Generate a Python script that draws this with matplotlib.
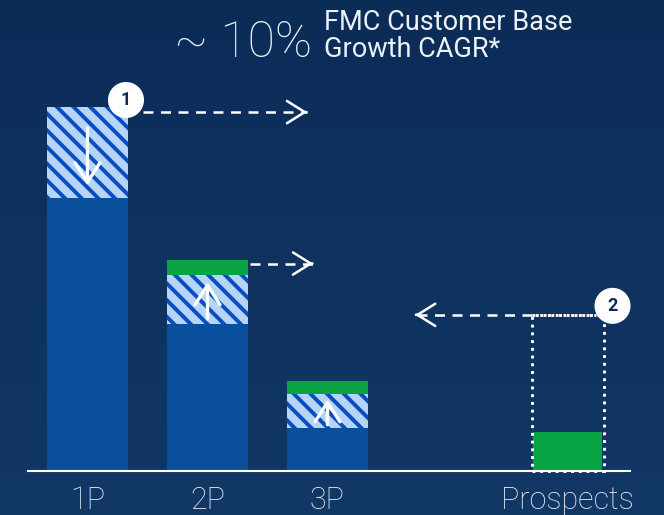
import numpy as np
import matplotlib.pyplot as plt
from matplotlib.colors import LinearSegmentedColormap
from matplotlib.patches import Rectangle

# customer base index (1P total = 100)
categories = ["1P", "2P", "3P", "Prospects"]
positions = [0, 1, 2, 4]
base = [75.0, 40.4, 11.8, 0.0]        # retained base
shift = [25.0, 13.5, 9.3, 0.0]        # migrating between tiers (hatched)
growth = [0.0, 4.1, 3.6, 10.7]        # new customers (green)
prospect_pool = 42.9
headline = "~ 10%"
subtitle = "FMC Customer Base\nGrowth CAGR*"

bg_top, bg_bottom = "#0c2c58", "#123865"
solid = "#0a4f9c"
light = "#b4d5f6"
stripe = "#0a4cc6"
green = "#08a444"
white = "#ffffff"
text_col = "#eef2f7"

plt.rcParams['font.family'] = ['Roboto', 'DejaVu Sans']
plt.rcParams['hatch.linewidth'] = 2.8

fig = plt.figure(figsize=(6.64, 5.15), dpi=100)
ax = fig.add_axes([0, 0, 1, 1])
ax.set_xlim(-0.729, 4.804)
ax.set_ylim(-12.09, 129.4)
ax.axis('off')

# background gradient
cmap = LinearSegmentedColormap.from_list("bg", [bg_bottom, bg_top])
grad = np.linspace(0, 1, 256).reshape(-1, 1)
ax.imshow(grad, extent=[0, 1, 0, 1], transform=ax.transAxes, cmap=cmap,
          aspect='auto', origin='lower', zorder=0)

w = 0.675
tiers = positions[:3]
ax.bar(tiers, base[:3], w, color=solid, zorder=2)
ax.bar(tiers, shift[:3], w, bottom=base[:3], color=light, edgecolor=stripe,
       linewidth=0, hatch='\\\\', zorder=2)
tops = [b + s for b, s in zip(base, shift)]
ax.bar(tiers[1:], growth[1:3], w, bottom=tops[1:3], color=green, zorder=2)

# prospects: green bar inside dotted pool outline
pw = 0.6
ax.bar(positions[3], growth[3], 0.567, color=green, zorder=2)
ax.add_patch(Rectangle((positions[3] - pw / 2, 0), pw, prospect_pool, fill=False,
                       ec=white, lw=2.1, ls=':', zorder=3))

ax.axhline(0, xmin=28 / 664, xmax=630 / 664, color=white, lw=1.5, zorder=3)


def dashed_arrow(x0, x1, y):
    ax.plot([x0, x1], [y, y], color=white, lw=1.8, ls=(0, (4, 3)), zorder=4)
    d = 0.01 if x1 > x0 else -0.01
    ax.annotate('', xy=(x1, y), xytext=(x1 - d, y),
                arrowprops=dict(arrowstyle='->,head_length=0.8,head_width=0.5',
                                color=white, lw=1.8, mutation_scale=16,
                                shrinkA=0, shrinkB=0), zorder=4)


def bar_arrow(x, y0, y1):
    ax.annotate('', xy=(x, y1), xytext=(x, y0),
                arrowprops=dict(arrowstyle='->,head_length=0.7,head_width=0.45',
                                color=white, lw=2.4, mutation_scale=20,
                                shrinkA=0, shrinkB=0), zorder=4)


# movement arrows inside the hatched segments
bar_arrow(positions[0], base[0] + 0.77 * shift[0], base[0] + 0.14 * shift[0])
for i in (1, 2):
    bar_arrow(positions[i], base[i] + 0.1 * shift[i], base[i] + 0.85 * shift[i])

# dashed arrows to the right / left
dashed_arrow(positions[0] + 0.46, positions[0] + 1.83, tops[0] - 1.4)
dashed_arrow(positions[1] + w / 2 + 0.02, positions[1] + 0.88, tops[1] + growth[1] - 1)
ax.plot([positions[3] - pw / 2, positions[3] + pw / 2 - 0.06], [prospect_pool] * 2,
        color=white, lw=2.1, ls=':', zorder=3)
dashed_arrow(positions[3] - pw / 2, 2.73, prospect_pool)


def badge(x, y, label, dx, dy):
    ax.annotate(label, xy=(x, y), xytext=(dx, dy), textcoords='offset pixels',
                ha='center', va='center', fontsize=13, fontweight='bold',
                color=bg_top, zorder=6,
                bbox=dict(boxstyle='circle,pad=0.5', fc=white, ec='none'))


badge(positions[0] + w / 2, tops[0], "1", -2, 7)
badge(positions[3] + pw / 2, prospect_pool, "2", 9, 9)

for p, c in zip(positions, categories):
    ax.text(p, -8, c, ha='center', va='center', fontsize=22,
            fontweight='light', color=text_col, zorder=5)

fig.text(312 / 664, 1 - 57 / 515, headline, ha='right', va='baseline',
         fontsize=36, fontweight='light', color=text_col)
fig.text(324 / 664, 1 - 57 / 515, subtitle, ha='left', va='baseline',
         fontsize=19.5, color=text_col, linespacing=1.0)

fig.savefig("out.png", dpi=100, facecolor=bg_top)
